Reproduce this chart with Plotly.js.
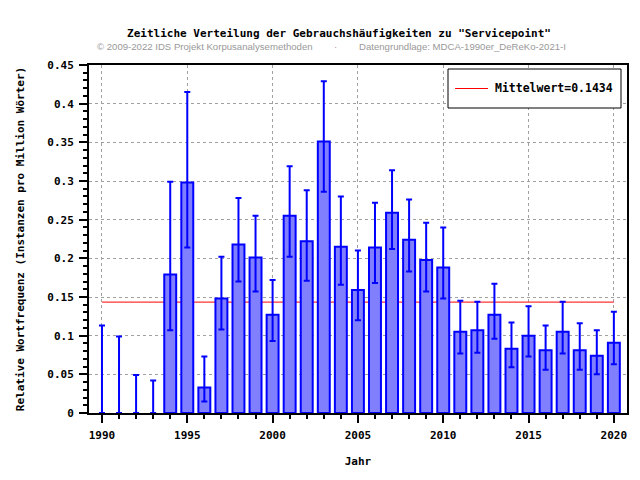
<!DOCTYPE html>
<html>
<head>
<meta charset="utf-8">
<script src="https://cdn.plot.ly/plotly-3.0.1.min.js"></script>
<style>html,body{margin:0;padding:0;background:#fff;}#chart{width:640px;height:480px;}</style>
</head>
<body>
<div id="chart"></div>
<script>
const years = [1990,1991,1992,1993,1994,1995,1996,1997,1998,1999,2000,2001,2002,2003,2004,2005,2006,2007,2008,2009,2010,2011,2012,2013,2014,2015,2016,2017,2018,2019,2020];
const values = [0,0,0,0,0.179,0.298,0.033,0.148,0.218,0.201,0.127,0.255,0.222,0.351,0.215,0.159,0.214,0.259,0.224,0.198,0.188,0.105,0.107,0.127,0.083,0.100,0.081,0.105,0.081,0.074,0.091];
const upper = [0.113,0.099,0.049,0.042,0.299,0.415,0.073,0.202,0.278,0.255,0.172,0.319,0.288,0.429,0.280,0.210,0.272,0.314,0.276,0.246,0.240,0.145,0.144,0.167,0.117,0.138,0.113,0.144,0.116,0.107,0.131];
const lower = [0,0,0,0,0.107,0.214,0.015,0.108,0.170,0.157,0.093,0.202,0.171,0.286,0.166,0.120,0.168,0.212,0.183,0.157,0.148,0.077,0.078,0.096,0.059,0.073,0.056,0.077,0.056,0.050,0.063];
const meanValue = 0.1434;
const meanLabel = 'Mittelwert=0.1434';

const mono = 'DejaVu Sans Mono, monospace';
const monoFont = {family: mono, size: 11, color: '#000', weight: 'bold'};
const subFont = {family: 'Liberation Sans, Arial, sans-serif', size: 9.6, color: '#999999', weight: 'normal'};

const errPlus = values.map((v,i) => upper[i] - v);
const errMinus = values.map((v,i) => v - lower[i]);
const outline = values.map(v => v > 0 ? 2 : 0);

const traces = [
  {
    type: 'bar', x: years, y: values, width: 0.7, showlegend: false,
    marker: {color: '#8080ff', line: {color: '#0000ff', width: outline}},
    error_y: {type: 'data', symmetric: false, array: errPlus, arrayminus: errMinus,
              color: '#0000ff', thickness: 2, width: 3},
    hoverinfo: 'x+y'
  }
];

// paper-coordinate helpers for the hand-drawn legend box
const px = v => (v - 89) / 538;
const py = v => (413 - v) / 348;

const layout = {
  width: 640, height: 480,
  margin: {l: 89, r: 13, t: 65, b: 67},
  paper_bgcolor: '#fff', plot_bgcolor: '#fff',
  font: monoFont,
  title: {text: 'Zeitliche Verteilung der Gebrauchshäufigkeiten zu "Servicepoint"',
          font: monoFont, xref: 'container', x: 339/640, xanchor: 'center',
          yref: 'container', y: 1 - 33/480, yanchor: 'middle'},
  showlegend: false,
  xaxis: {
    range: [1989.24, 2020.77], tickmode: 'linear', tick0: 1990, dtick: 5,
    ticks: 'outside', ticklen: 8, tickwidth: 2, tickcolor: '#000',
    minor: {dtick: 1, tick0: 1990, ticks: 'outside', ticklen: 4, tickwidth: 2, tickcolor: '#000', showgrid: false},
    showline: true, linecolor: '#000', linewidth: 2, mirror: true,
    showgrid: true, gridcolor: '#a0a0a0', gridwidth: 1, griddash: 'dot',
    zeroline: false, tickfont: monoFont, ticklabelstandoff: 3,
    title: {text: 'Jahr', font: monoFont, standoff: 16}
  },
  yaxis: {
    range: [0, 0.45], tickmode: 'linear', tick0: 0, dtick: 0.05,
    ticks: 'outside', ticklen: 8, tickwidth: 2, tickcolor: '#000',
    minor: {dtick: 0.01, tick0: 0, ticks: 'outside', ticklen: 4, tickwidth: 2, tickcolor: '#000', showgrid: false},
    showline: true, linecolor: '#000', linewidth: 2, mirror: true,
    showgrid: true, gridcolor: '#a0a0a0', gridwidth: 1, griddash: 'dot',
    zeroline: false, tickfont: monoFont, ticklabelstandoff: 3,
    title: {text: 'Relative Wortfrequenz (Instanzen pro Million Wörter)', font: monoFont, standoff: 20}
  },
  shapes: [
    {type: 'line', layer: 'between', xref: 'x', yref: 'y',
     x0: years[0], x1: years[years.length-1], y0: meanValue, y1: meanValue,
     line: {color: '#ff0000', width: 1}},
    {type: 'rect', layer: 'above', xref: 'paper', yref: 'paper',
     x0: px(448), x1: px(621), y0: py(69), y1: py(108),
     fillcolor: '#fff', line: {color: '#000', width: 1}},
    {type: 'line', layer: 'above', xref: 'paper', yref: 'paper',
     x0: px(455), x1: px(488), y0: py(88.5), y1: py(88.5),
     line: {color: '#ff0000', width: 1}}
  ],
  annotations: [
    {text: meanLabel, xref: 'paper', yref: 'paper', x: px(493), xanchor: 'left',
     y: py(88.5), yanchor: 'middle', showarrow: false,
     font: {family: mono, size: 11.5, color: '#000', weight: 'bold'}},
    {text: '© 2009-2022 IDS Projekt Korpusanalysemethoden', xref: 'paper', yref: 'paper',
     x: px(95), xanchor: 'left', y: py(46), yanchor: 'middle', showarrow: false, font: subFont},
    {text: '·', xref: 'paper', yref: 'paper',
     x: px(335), xanchor: 'center', y: py(46), yanchor: 'middle', showarrow: false, font: subFont},
    {text: 'Datengrundlage: MDCA-1990er_DeReKo-2021-I', xref: 'paper', yref: 'paper',
     x: px(357), xanchor: 'left', y: py(46), yanchor: 'middle', showarrow: false, font: subFont}
  ]
};

Plotly.newPlot('chart', traces, layout, {displayModeBar: false, staticPlot: true});
</script>
</body>
</html>
